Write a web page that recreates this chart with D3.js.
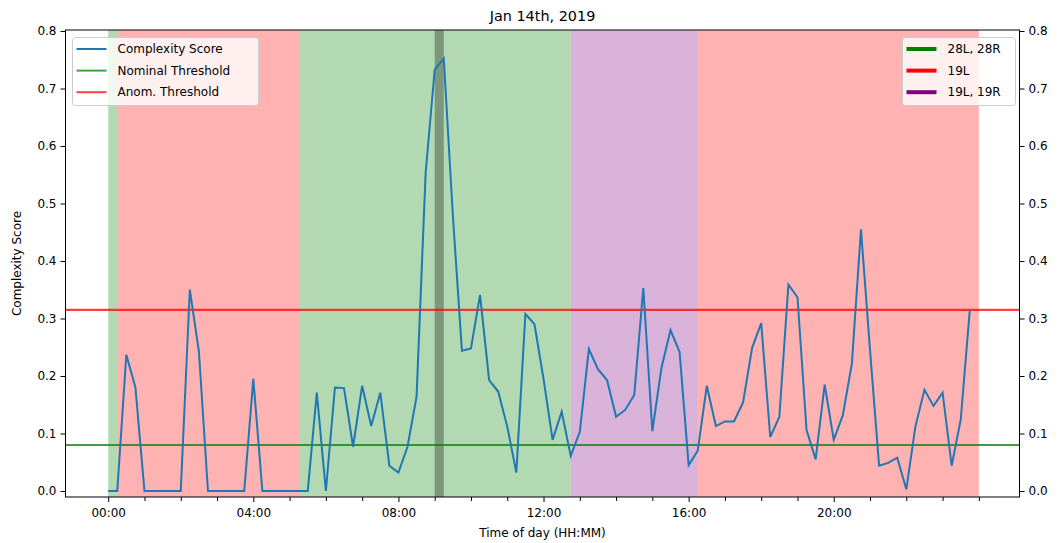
<!DOCTYPE html>
<html>
<head>
<meta charset="utf-8">
<script src="https://cdn.jsdelivr.net/npm/d3@7"></script>
<style>
  html, body { margin: 0; padding: 0; background: #fff; }
  svg { display: block; font-family: "DejaVu Sans", sans-serif; }
</style>
</head>
<body>
<svg id="chart" width="1060" height="543"></svg>
<script>
// ---- data ----
const times = [
  "00:00","00:15","00:30","00:45","01:00","01:15","01:30","01:45",
  "02:00","02:15","02:30","02:45","03:00","03:15","03:30","03:45",
  "04:00","04:15","04:30","04:45","05:00","05:15","05:30","05:45",
  "06:00","06:15","06:30","06:45","07:00","07:15","07:30","07:45",
  "08:00","08:15","08:30","08:45","09:00","09:15","09:30","09:45",
  "10:00","10:15","10:30","10:45","11:00","11:15","11:30","11:45",
  "12:00","12:15","12:30","12:45","13:00","13:15","13:30","13:45",
  "14:00","14:15","14:30","14:45","15:00","15:15","15:30","15:45",
  "16:00","16:15","16:30","16:45","17:00","17:15","17:30","17:45",
  "18:00","18:15","18:30","18:45","19:00","19:15","19:30","19:45",
  "20:00","20:15","20:30","20:45","21:00","21:15","21:30","21:45",
  "22:00","22:15","22:30","22:45","23:00","23:15","23:30","23:45"
];
const complexity = [
  0, 0, 0.237, 0.18, 0, 0, 0, 0,
  0, 0.35, 0.243, 0, 0, 0, 0, 0,
  0.195, 0, 0, 0, 0, 0, 0, 0.171,
  0, 0.18, 0.179, 0.077, 0.183, 0.113, 0.171, 0.044,
  0.032, 0.077, 0.164, 0.553, 0.733, 0.752, 0.48, 0.244,
  0.248, 0.341, 0.193, 0.173, 0.112, 0.032, 0.308, 0.29,
  0.195, 0.089, 0.138, 0.061, 0.103, 0.247, 0.212, 0.193,
  0.129, 0.141, 0.167, 0.353, 0.104, 0.214, 0.28, 0.242,
  0.045, 0.07, 0.183, 0.113, 0.121, 0.121, 0.154, 0.249,
  0.292, 0.094, 0.129, 0.359, 0.337, 0.106, 0.055, 0.185,
  0.089, 0.132, 0.222, 0.455, 0.245, 0.044, 0.049, 0.058,
  0.003, 0.112, 0.176, 0.148, 0.171, 0.044, 0.124, 0.315
];
const nominalThreshold = 0.08;
const anomThreshold = 0.315;

// runway configuration spans (start / end as HH:MM)
const spanStart  = ["00:00", "00:15", "05:16", "12:45", "16:15"];
const spanEnd    = ["00:15", "05:16", "12:45", "16:15", "24:00"];
const spanConfig = ["28L, 28R", "19L", "28L, 28R", "19L, 19R", "19L"];
const highlightStart = "09:00";
const highlightEnd = "09:15";

const runwayConfigs = ["28L, 28R", "19L", "19L, 19R"];
const runwayColors  = ["green", "red", "purple"];

const yTicks = [0.0, 0.1, 0.2, 0.3, 0.4, 0.5, 0.6, 0.7, 0.8];
const xMajorTicks = ["00:00", "04:00", "08:00", "12:00", "16:00", "20:00"];
const xMinorTicks = ["01:00","02:00","03:00","05:00","06:00","07:00","09:00","10:00","11:00",
                     "13:00","14:00","15:00","17:00","18:00","19:00","21:00","22:00","23:00","24:00"];

const title = "Jan 14th, 2019";
const xLabel = "Time of day (HH:MM)";
const yLabel = "Complexity Score";

// ---- helpers ----
const toHours = s => { const [h, m] = s.split(":").map(Number); return h + m / 60; };

// ---- layout ----
const svg = d3.select("#chart");
const pL = 65.5, pR = 1019.5, pT = 30, pB = 497;

const x = d3.scaleLinear().domain([-1.177, 25.12]).range([pL, pR]);
const y = d3.scaleLinear().domain([-0.0104, 0.8]).range([pB, 31]);

const colorOf = d3.scaleOrdinal().domain(runwayConfigs).range(runwayColors);

const plot = svg.append("g");
plot.append("clipPath").attr("id", "clip")
  .append("rect").attr("x", pL).attr("y", pT).attr("width", pR - pL).attr("height", pB - pT);
const inner = plot.append("g").attr("clip-path", "url(#clip)");

// spans
inner.selectAll("rect.span")
  .data(spanConfig.map((c, i) => ({ c, s: toHours(spanStart[i]), e: toHours(spanEnd[i]) })))
  .join("rect")
  .attr("class", "span")
  .attr("x", d => x(d.s))
  .attr("width", d => x(d.e) - x(d.s))
  .attr("y", pT).attr("height", pB - pT)
  .attr("fill", d => colorOf(d.c))
  .attr("fill-opacity", 0.3);

// highlight band
inner.append("rect")
  .attr("x", x(toHours(highlightStart)))
  .attr("width", x(toHours(highlightEnd)) - x(toHours(highlightStart)))
  .attr("y", pT).attr("height", pB - pT)
  .attr("fill", "black").attr("fill-opacity", 0.3);

// threshold lines
inner.append("line")
  .attr("x1", pL).attr("x2", pR)
  .attr("y1", y(nominalThreshold)).attr("y2", y(nominalThreshold))
  .attr("stroke", "green").attr("stroke-opacity", 0.75).attr("stroke-width", 2.2);
inner.append("line")
  .attr("x1", pL).attr("x2", pR)
  .attr("y1", y(anomThreshold)).attr("y2", y(anomThreshold))
  .attr("stroke", "red").attr("stroke-opacity", 0.75).attr("stroke-width", 2.2);

// complexity line
const line = d3.line().x((d, i) => x(toHours(times[i]))).y(d => y(d));
inner.append("path")
  .datum(complexity)
  .attr("d", line)
  .attr("fill", "none")
  .attr("stroke", "#1f77b4")
  .attr("stroke-width", 2)
  .attr("stroke-linejoin", "miter");

// axes
const fmt = d3.format(".1f");
const xAxisMajor = d3.axisBottom(x)
  .tickValues(xMajorTicks.map(toHours))
  .tickFormat((d, i) => xMajorTicks[i])
  .tickSize(5).tickPadding(4);
const xAxisMinor = d3.axisBottom(x)
  .tickValues(xMinorTicks.map(toHours))
  .tickFormat("")
  .tickSize(4);

const gxm = svg.append("g").attr("transform", `translate(0,${pB})`).call(xAxisMinor);
const gx = svg.append("g").attr("transform", `translate(0,${pB})`).call(xAxisMajor);
const gyl = svg.append("g").attr("transform", `translate(${pL},0)`)
  .call(d3.axisLeft(y).tickValues(yTicks).tickFormat(fmt).tickSize(5).tickPadding(4));
const gyr = svg.append("g").attr("transform", `translate(${pR},0)`)
  .call(d3.axisRight(y).tickValues(yTicks).tickFormat(fmt).tickSize(5).tickPadding(4));

[gxm, gx, gyl, gyr].forEach(g => {
  g.select(".domain").remove();
  g.selectAll("line").attr("stroke", "#000").attr("stroke-width", 1);
  g.selectAll("text").attr("fill", "#000").style("font-size", "12px").style("font-family", "DejaVu Sans, sans-serif");
});
gx.selectAll("text").attr("dy", "0.9em");

// frame
svg.append("rect")
  .attr("x", pL).attr("y", pT).attr("width", pR - pL).attr("height", pB - pT)
  .attr("fill", "none").attr("stroke", "#000").attr("stroke-width", 1);

// titles
svg.append("text").attr("x", (pL + pR) / 2).attr("y", 21)
  .attr("text-anchor", "middle").style("font-size", "14.4px").attr("fill", "#000").text(title);
svg.append("text").attr("x", (pL + pR) / 2).attr("y", 537)
  .attr("text-anchor", "middle").style("font-size", "12px").attr("fill", "#000").text(xLabel);
svg.append("text").attr("transform", `translate(21,${(pT + pB) / 2}) rotate(-90)`)
  .attr("text-anchor", "middle").style("font-size", "12px").attr("fill", "#000").text(yLabel);

// legends
function legend(items, x0, y0, w, h, lineW, textX) {
  const g = svg.append("g");
  g.append("rect").attr("x", x0).attr("y", y0).attr("width", w).attr("height", h)
    .attr("rx", 3).attr("fill", "white").attr("fill-opacity", 0.8)
    .attr("stroke", "#cccccc").attr("stroke-width", 1);
  items.forEach((it, i) => {
    const yy = y0 + 11.5 + i * 21.6;
    g.append("line").attr("x1", x0 + 4).attr("x2", x0 + 34).attr("y1", yy).attr("y2", yy)
      .attr("stroke", it.color).attr("stroke-opacity", it.opacity).attr("stroke-width", lineW);
    g.append("text").attr("x", x0 + textX).attr("y", yy).attr("dy", "0.35em")
      .style("font-size", "12px").attr("fill", "#000").text(it.label);
  });
}
legend([
  { label: "Complexity Score", color: "#1f77b4", opacity: 1 },
  { label: "Nominal Threshold", color: "green", opacity: 0.75 },
  { label: "Anom. Threshold", color: "red", opacity: 0.75 }
], 72.5, 37.5, 186, 68, 2, 45);

legend(runwayConfigs.map((c, i) => ({ label: c, color: runwayColors[i], opacity: 1 })),
  902.5, 37.5, 113, 68, 4, 45);
</script>
</body>
</html>
